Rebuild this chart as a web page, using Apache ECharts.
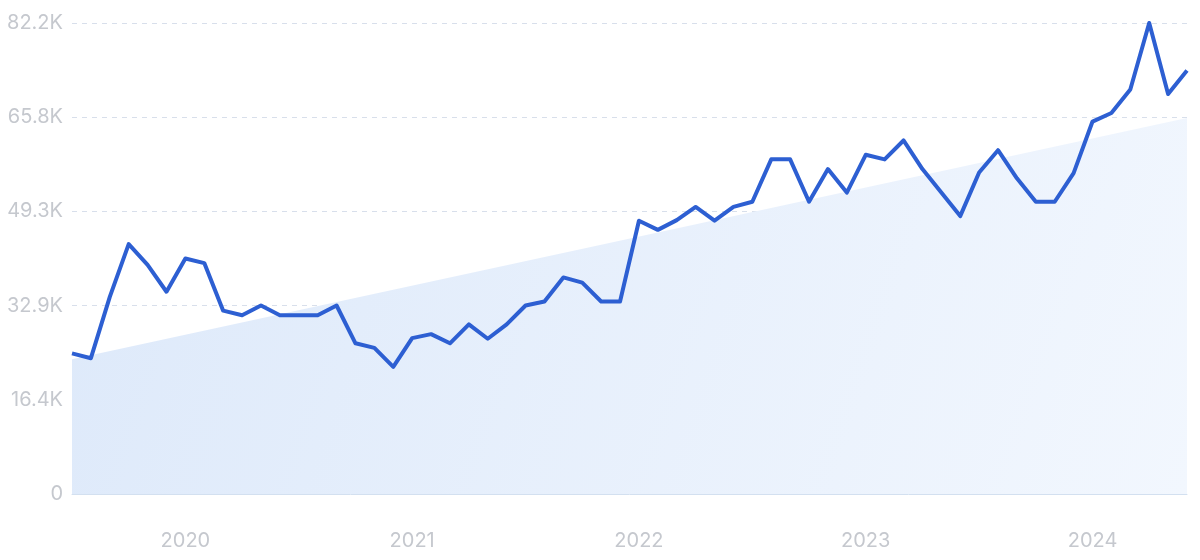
<!DOCTYPE html>
<html>
<head>
<meta charset="utf-8">
<script src="https://cdn.jsdelivr.net/npm/echarts@6/dist/echarts.min.js"></script>
<style>
html,body{margin:0;padding:0;background:#fff;}
#chart{width:1200px;height:560px;}
</style>
</head>
<body>
<div id="chart"></div>
<script>
const categories = [
  "2019-07","2019-08","2019-09","2019-10","2019-11","2019-12",
  "2020-01","2020-02","2020-03","2020-04","2020-05","2020-06","2020-07","2020-08","2020-09","2020-10","2020-11","2020-12",
  "2021-01","2021-02","2021-03","2021-04","2021-05","2021-06","2021-07","2021-08","2021-09","2021-10","2021-11","2021-12",
  "2022-01","2022-02","2022-03","2022-04","2022-05","2022-06","2022-07","2022-08","2022-09","2022-10","2022-11","2022-12",
  "2023-01","2023-02","2023-03","2023-04","2023-05","2023-06","2023-07","2023-08","2023-09","2023-10","2023-11","2023-12",
  "2024-01","2024-02","2024-03","2024-04","2024-05","2024-06"
];
const searchVolume = [
  24550, 23700, 34400, 43600, 40000, 35300,
  41100, 40300, 32000, 31200, 32900, 31200, 31200, 31200, 32900, 26300, 25500, 22200,
  27200, 27900, 26300, 29600, 27100, 29600, 32900, 33600, 37800, 36900, 33600, 33600,
  47700, 46100, 47800, 50100, 47700, 50100, 51000, 58400, 58400, 51000, 56700, 52600,
  59200, 58400, 61700, 56700, 52600, 48500, 56100, 60000, 55100, 51000, 51000, 56000,
  65000, 66500, 70600, 82200, 69800, 73900
];
const trendStart = [0, 23500];
const trendEnd = [59, 65600];
const yTicks = [0, 16440, 32880, 49320, 65760, 82200];

const chart = echarts.init(document.getElementById('chart'));
chart.setOption({
  animation: false,
  grid: { left: 72, right: 13, top: 23, bottom: 66 },
  xAxis: {
    type: 'category',
    data: categories,
    boundaryGap: false,
    axisLine: { show: true, lineStyle: { color: '#d3e0f0', width: 1 } },
    axisTick: { show: false },
    splitLine: { show: false },
    axisLabel: {
      interval: function (index, value) { return value.slice(5) === '01'; },
      formatter: function (value) { return value.slice(0, 4); },
      color: '#c5c8ce',
      fontSize: 20,
      fontFamily: 'Inter, Roboto, sans-serif',
      margin: 37
    }
  },
  yAxis: {
    type: 'value',
    min: yTicks[0],
    max: yTicks[yTicks.length - 1],
    interval: yTicks[1] - yTicks[0],
    axisLine: { show: false },
    axisTick: { show: false },
    splitLine: { show: true, lineStyle: { color: '#d8dfeb', type: [5, 5], width: 1 } },
    axisLabel: {
      formatter: function (v) { return v === 0 ? '0' : (v / 1000).toFixed(1) + 'K'; },
      color: '#c5c8ce',
      fontSize: 20,
      fontFamily: 'Inter, Roboto, sans-serif',
      margin: 9
    }
  },
  series: [
    {
      type: 'line',
      data: [trendStart, trendEnd],
      symbol: 'none',
      lineStyle: { width: 0 },
      areaStyle: {
        opacity: 1,
        color: new echarts.graphic.LinearGradient(0, 0, 1, 1, [
          { offset: 0, color: '#dde9fa' },
          { offset: 1, color: '#f2f7fe' }
        ])
      },
      z: 1,
      silent: true
    },
    {
      type: 'line',
      data: searchVolume,
      symbol: 'none',
      lineStyle: { color: '#2d5fd2', width: 4, join: 'round' },
      z: 3
    }
  ]
});
</script>
</body>
</html>
